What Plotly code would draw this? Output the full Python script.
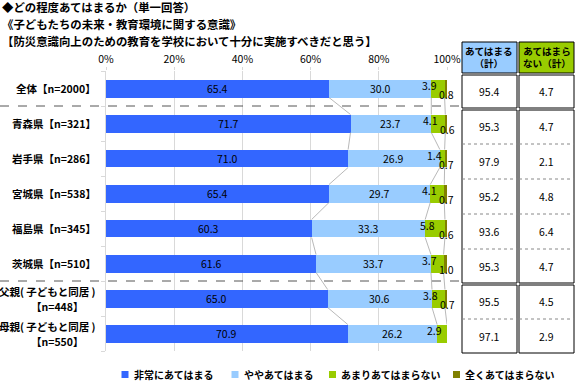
import plotly.graph_objects as go

# ---------------- data ----------------
categories = ["全体【n=2000】", "青森県【n=321】", "岩手県【n=286】", "宮城県【n=538】",
              "福島県【n=345】", "茨城県【n=510】",
              "父親( 子どもと同居 )<br>【n=448】", "母親( 子どもと同居 )<br>【n=550】"]
series_names = ["非常にあてはまる", "ややあてはまる", "あまりあてはまらない", "全くあてはまらない"]
very_applies = [65.4, 71.7, 71.0, 65.4, 60.3, 61.6, 65.0, 70.9]
somewhat_applies = [30.0, 23.7, 26.9, 29.7, 33.3, 33.7, 30.6, 26.2]
not_much = [3.9, 4.1, 1.4, 4.1, 5.8, 3.7, 3.8, 2.9]
not_at_all = [0.8, 0.6, 0.7, 0.7, 0.6, 1.0, 0.7, 0.0]
applies_total = [95.4, 95.3, 97.9, 95.2, 93.6, 95.3, 95.5, 97.1]
not_applies_total = [4.7, 4.7, 2.1, 4.8, 6.4, 4.7, 4.5, 2.9]
table_headers = ["あてはまる<br>（計）", "あてはまら<br>ない（計）"]
x_ticks = [0, 20, 40, 60, 80, 100]
title_lines = ["◆どの程度あてはまるか（単一回答）",
               "《子どもたちの未来・教育環境に関する意識》",
               "【防災意識向上のための教育を学校において十分に実施すべきだと思う】"]

# ---------------- style ----------------
colors = ["#3366FF", "#99CCFF", "#99CC00", "#808000"]
header_fills = ["#99CCFF", "#99CC00"]
FONT = "Noto Sans CJK JP"
W, H = 575, 386
L, RPX, T, BPX = 106, 447, 71, 351
PW, PH = RPX - L, BPX - T
ROW = PH / len(categories)
BAR_W = 0.514
BLACK = "#000000"


def xp(px):
    return (px - L) / PW


def yp(py):
    return (BPX - py) / PH


def txt(**kw):
    d = dict(showarrow=False, xanchor="center", yanchor="middle")
    d.update(kw)
    return d


series = [very_applies, somewhat_applies, not_much, not_at_all]
idx = list(range(len(categories)))

fig = go.Figure()
for k, (name, vals) in enumerate(zip(series_names, series)):
    fig.add_trace(go.Bar(name=name, y=idx, x=vals, orientation="h",
                         width=BAR_W, marker=dict(color=colors[k], line=dict(width=0)),
                         showlegend=False, hoverinfo="skip"))

annotations = []
shapes = []

# cumulative boundaries
cums = []
for i in idx:
    c, row = 0, []
    for s in series:
        c += s[i]
        row.append(c)
    cums.append(row)

# segment labels
for i in idx:
    starts = [0] + cums[i][:-1]
    for k, s in enumerate(series):
        v = s[i]
        if v <= 0:
            continue
        xshift, yshift = 0, 0
        if k == 2:
            xshift, yshift = -8, 3
        elif k == 3:
            xshift, yshift = 1, -6
        annotations.append(txt(x=starts[k] + v / 2, y=i, xref="x", yref="y",
                               text=f"{v:.1f}", xshift=xshift, yshift=yshift,
                               font=dict(family=FONT, size=10.5, color=BLACK)))

# series connector lines
for i in idx[:-1]:
    for k in range(3):
        shapes.append(dict(type="line", xref="x", yref="y",
                           x0=cums[i][k], y0=i + BAR_W / 2, x1=cums[i + 1][k], y1=i + 1 - BAR_W / 2,
                           line=dict(color="#A6A6A6", width=0.8), layer="above"))

# category labels
for i, c in enumerate(categories):
    parts = c.split("<br>")
    if len(parts) == 1:
        annotations.append(txt(x=0, y=i, xref="paper", yref="y", xanchor="right",
                               xshift=-8, text=f"<b>{c}</b>",
                               font=dict(family=FONT, size=10.5, color=BLACK)))
    else:
        annotations.append(txt(x=0, y=i, xref="paper", yref="y", xanchor="right",
                               xshift=-8, yshift=7, text=f"<b>{parts[0]}</b>",
                               font=dict(family=FONT, size=10.5, color=BLACK)))
        annotations.append(txt(x=xp(58), y=i, xref="paper", yref="y", xanchor="center",
                               yshift=-8, text=f"<b>{parts[1]}</b>",
                               font=dict(family=FONT, size=10.5, color=BLACK)))

# dashed separators
for r in [1, 6]:
    ypx = T + r * ROW
    shapes.append(dict(type="line", xref="paper", yref="paper", x0=xp(0), x1=xp(460),
                       y0=yp(ypx), y1=yp(ypx), line=dict(color="#555555", width=1, dash="dash")))

# titles
for j, t in enumerate(title_lines):
    annotations.append(txt(x=xp(0), y=yp(7 + j * 16.8), xref="paper", yref="paper",
                           xanchor="left", text=f"<b>{t}</b>",
                           font=dict(family=FONT, size=11.4, color=BLACK)))

# table
cols = [(462, 517), (519, 574)]
table_vals = [applies_total, not_applies_total]
groups = [(0, 1), (1, 6), (6, 8)]
for c, (x0, x1) in enumerate(cols):
    shapes.append(dict(type="rect", xref="paper", yref="paper", x0=xp(x0), x1=xp(x1),
                       y0=yp(73), y1=yp(42), fillcolor=header_fills[c],
                       line=dict(color=BLACK, width=1)))
    annotations.append(txt(x=xp((x0 + x1) / 2), y=yp(57.5), xref="paper", yref="paper",
                           text=f"<b>{table_headers[c]}</b>", align="center",
                           font=dict(family=FONT, size=9.6, color=BLACK)))
    for (a, b) in groups:
        top = 75 if a == 0 else T + a * ROW + 4
        bot = T + b * ROW + 2
        shapes.append(dict(type="rect", xref="paper", yref="paper", x0=xp(x0), x1=xp(x1),
                           y0=yp(bot), y1=yp(top), line=dict(color=BLACK, width=1),
                           fillcolor="#FFFFFF"))
        for r in range(a + 1, b):
            ypx = T + r * ROW + 3
            shapes.append(dict(type="line", xref="paper", yref="paper", x0=xp(x0), x1=xp(x1),
                               y0=yp(ypx), y1=yp(ypx), line=dict(color="#888888", width=1, dash="dot")))
    for i in idx:
        annotations.append(txt(x=xp((x0 + x1) / 2), y=yp(T + (i + 0.5) * ROW + 3), xref="paper",
                               yref="paper", text=f"{table_vals[c][i]:.1f}",
                               font=dict(family=FONT, size=10.5, color=BLACK)))

# legend (manual)
legend_x = [121.5, 231.5, 329, 453]
for k, name in enumerate(series_names):
    lx = legend_x[k]
    shapes.append(dict(type="rect", xref="paper", yref="paper", x0=xp(lx), x1=xp(lx + 7),
                       y0=yp(378), y1=yp(371), fillcolor=colors[k], line=dict(width=0)))
    annotations.append(txt(x=xp(lx + 10), y=yp(374.5), xref="paper", yref="paper",
                           xanchor="left", text=f"<b>{name}</b>",
                           font=dict(family=FONT, size=10, color=BLACK)))

fig.update_layout(
    width=W, height=H, barmode="stack", bargap=0,
    margin=dict(l=L, r=W - RPX, t=T, b=H - BPX, pad=0),
    paper_bgcolor="#FFFFFF", plot_bgcolor="#FFFFFF",
    font=dict(family=FONT, size=10.5, color=BLACK),
    xaxis=dict(range=[0, 100], side="top", tickvals=x_ticks, ticktext=[f"{v}%" for v in x_ticks],
               showgrid=True, gridcolor="#D9D9D9", gridwidth=1, zeroline=False,
               ticks="outside", ticklen=3, tickcolor="#D9D9D9", showline=False,
               tickfont=dict(family=FONT, size=10.5, color=BLACK), fixedrange=True),
    yaxis=dict(range=[len(categories) - 0.5, -0.5], tickvals=[k - 0.5 for k in range(len(categories) + 1)],
               showticklabels=False, ticks="outside", ticklen=4, tickcolor="#D9D9D9",
               showgrid=False, zeroline=False, showline=True, linecolor="#D9D9D9", linewidth=1,
               fixedrange=True),
    shapes=shapes, annotations=annotations, showlegend=False,
)

fig.write_html("out.html", config={"displayModeBar": False},
               post_script="document.body.style.margin='0';document.body.style.overflow='hidden';")
